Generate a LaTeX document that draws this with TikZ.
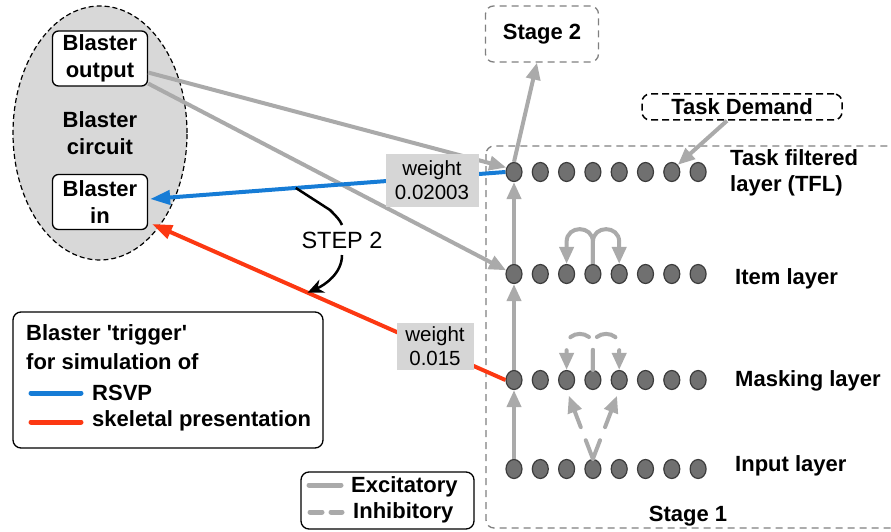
\documentclass[tikz,border=0pt]{standalone}
\usepackage{fontspec}
\setmainfont{Liberation Sans}
\usetikzlibrary{shapes.geometric,arrows.meta,calc}

\definecolor{exc}{RGB}{170,170,170}
\definecolor{neuronfill}{RGB}{112,112,112}
\definecolor{neuronline}{RGB}{60,60,60}
\definecolor{rsvpblue}{RGB}{22,124,214}
\definecolor{skelred}{RGB}{252,56,18}
\definecolor{labelgray}{RGB}{214,214,214}
\definecolor{circuitgray}{RGB}{216,216,216}
\definecolor{stagegray}{RGB}{128,128,128}

\tikzset{
  bigtext/.style={font=\bfseries\fontsize{22pt}{26.5pt}\selectfont},
  neuron/.style={ellipse, fill=neuronfill, draw=neuronline, line width=1.2pt,
    minimum width=16pt, minimum height=19pt, inner sep=0pt},
  excline/.style={draw=exc, line width=4pt},
  excarrow/.style={excline, -{Triangle[length=17pt,width=14pt]}},
  inharrow/.style={excarrow, dash pattern=on 20pt off 14pt, line cap=round},
  blasterbox/.style={draw, rounded corners=6pt, fill=white, line width=1.3pt,
    minimum width=95pt, minimum height=55pt, align=center, bigtext, inner sep=0pt},
  weightbox/.style={fill=labelgray, align=center,
    font=\fontsize{20.5pt}{24pt}\selectfont, inner sep=0pt},
  layerlabel/.style={anchor=west, align=left, bigtext, inner sep=0pt},
  legendtext/.style={anchor=west, bigtext, inner sep=0pt},
  trigger/.style={line width=4pt, -{Triangle[length=20pt,width=14pt]}},
  legendbox/.style={draw, rounded corners=8pt, line width=1.3pt},
  stagebox/.style={draw=stagegray, dash pattern=on 7pt off 5pt, line width=1.3pt,
    rounded corners=8pt},
}

\begin{document}
\begin{tikzpicture}[x=1pt,y=-1pt]
\useasboundingbox (0,0) rectangle (891,532);

% Stage 1 frame (runs off the right edge)
\draw[stagebox] (486,146) rectangle (920,528);
\node[bigtext] (s1) at (688,516) {Stage 1};

% Blaster circuit
\node[ellipse, draw, dash pattern=on 5pt off 3pt, line width=1.2pt, fill=circuitgray,
  minimum width=174pt, minimum height=254pt, align=center, bigtext] (bc) at (100,133) {Blaster\\circuit};
\node[blasterbox] (bo) at (100,58.5) {Blaster\\output};
\node[blasterbox] (bi) at (100,202) {Blaster\\in};

% Stage 2 and task demand
\node[stagebox, minimum width=113pt, minimum height=56pt, bigtext] (s2) at (542,34) {Stage 2};
\node[draw, dash pattern=on 7pt off 4pt, line width=1.5pt, rounded corners=8pt,
  minimum width=200pt, minimum height=26pt, inner sep=0pt, bigtext] (td) at (742,107) {Task Demand};

% Layers of units
\foreach \k in {0,...,7} {
  \pgfmathsetmacro\xx{514+26.3*\k}
  \node[neuron] (t\k) at (\xx,172) {};
  \node[neuron] (i\k) at (\xx,274) {};
  \node[neuron] (m\k) at (\xx,380) {};
  \node[neuron] (n\k) at (\xx,469) {};
}

\node[layerlabel] (tfl) at (730,173) {Task filtered\\layer (TFL)};
\node[layerlabel] (il) at (735,279) {Item layer};
\node[layerlabel] (ml) at (735,381) {Masking layer};
\node[layerlabel] (inl) at (735,466) {Input layer};

% Feed-forward excitatory connections
\draw[excarrow] (n0.north) -- (m0.south);
\draw[excarrow] (m0.north) -- (i0.south);
\draw[excarrow] (i0.north) -- (t0.south);
\draw[excarrow] (t0.north) -- ([xshift=-5pt]s2.south);
\draw[excarrow] ([xshift=-15pt]td.south) -- (t6.50);
\draw[excarrow] ([yshift=-14pt]bo.east) -- (t0.150);
\draw[excarrow] ([yshift=-25pt]bo.east) -- (i0.155);

% Lateral excitation in the item layer
\draw[excarrow] (i3.north) -- ++(0,-22) .. controls +(0,-17) and +(0,-17) .. ($(i2.north)+(0,-22)$) -- (i2.north);
\draw[excarrow] (i3.north) -- ++(0,-22) .. controls +(0,-17) and +(0,-17) .. ($(i4.north)+(0,-22)$) -- (i4.north);

% Inhibition in the masking layer
\draw[inharrow] (m3.north) -- ++(0,-24) .. controls +(0,-16) and +(0,-16) .. ($(m2.north)+(0,-24)$) -- (m2.north);
\draw[inharrow] (m3.north) -- ++(0,-24) .. controls +(0,-16) and +(0,-16) .. ($(m4.north)+(0,-24)$) -- (m4.north);
\draw[inharrow, shorten >=6pt] (n3.north) -- (m2.south);
\draw[inharrow, shorten >=6pt] (n3.north) -- (m4.south);

% Blaster triggers
\draw[rsvpblue, trigger] (t0.west) -- coordinate[pos=0.59] (bluept) ([xshift=2pt,yshift=3pt]bi.east);
\draw[skelred, trigger] (m0.west) -- coordinate[pos=0.56] (redpt) ([xshift=4pt,yshift=-22pt]bi.east);
\node[weightbox, minimum width=93pt, minimum height=53pt] (w1) at (432,180) {weight\\0.02003};
\node[weightbox, minimum width=77pt, minimum height=47pt] (w2) at (435,346) {weight\\0.015};

% Step 2 pointer
\node[font=\fontsize{23.5pt}{26pt}\selectfont, inner sep=6.5pt] (step) at (342,240) {STEP 2};
\draw[line width=2.5pt] (bluept) -- (330,210) .. controls (336,216) and (340,220) .. (step.north);
\draw[line width=2.5pt, -{Stealth[length=16pt,width=14pt]}] (step.south) .. controls +(0,18) and +(18,-8) .. (redpt);

% Trigger legend
\node[legendbox, minimum width=310pt, minimum height=136pt] (leg1) at (168,380) {};
\node[legendtext] (lt1) at (26,335) {Blaster \textquotesingle trigger\textquotesingle};
\node[legendtext] (lt2) at (26,362) {for simulation of};
\draw[rsvpblue, line width=5pt, line cap=round] (31,393) -- (81,393);
\node[legendtext] (lt3) at (92,393) {RSVP};
\draw[skelred, line width=5pt, line cap=round] (31,422) -- (81,422);
\node[legendtext] (lt4) at (92,421) {skeletal presentation};

% Connection type legend
\node[legendbox, minimum width=173pt, minimum height=57pt] (leg2) at (387.5,500.5) {};
\draw[exc, line width=5pt, line cap=round] (309,485) -- (341,485);
\node[legendtext] (lx) at (351,487) {Excitatory};
\draw[exc, line width=5pt, line cap=round, dash pattern=on 12pt off 9pt] (310,512) -- (342,512);
\node[legendtext] (lh) at (353,513) {Inhibitory};
\end{tikzpicture}
\end{document}
